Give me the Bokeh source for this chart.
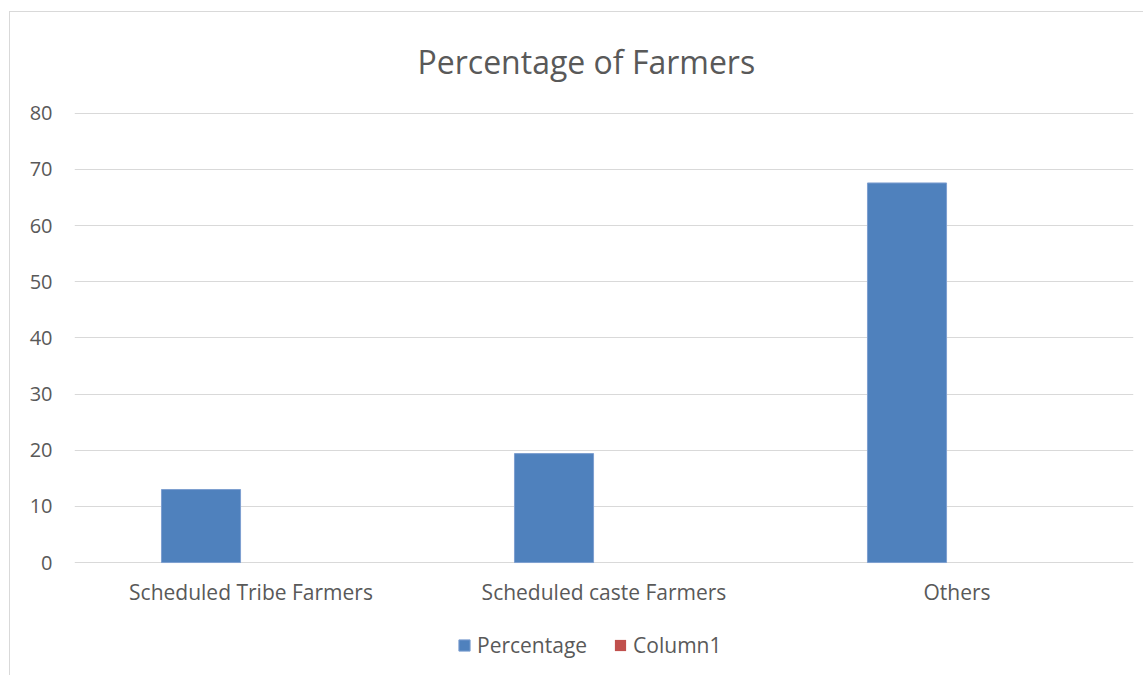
from bokeh.plotting import figure
from bokeh.models import ColumnDataSource, Legend, LegendItem
from bokeh.core.properties import value
from bokeh.transform import dodge
from bokeh.embed import file_html
from bokeh.resources import INLINE

categories = ["Scheduled Tribe Farmers", "Scheduled caste Farmers", "Others"]
percentage = [13.0, 19.4, 67.6]
column1 = [0.0, 0.0, 0.0]
y_ticks = [0, 10, 20, 30, 40, 50, 60, 70, 80]

FONT = "Open Sans"
TXT = "#595959"

# layout (pixels)
FIG_W, FIG_H = 1134, 664
B_LEFT, B_RIGHT, B_TOP, B_BOTTOM = 64, 11, 99, 10
AXIS_PX = 450.0                      # pixel span of 0..80
Y_MAX = 80
TOP_PAD = 0.15                       # keeps the 80 gridline inside the frame
frame_h = FIG_H - B_TOP - B_BOTTOM
px_per_unit = AXIS_PX / Y_MAX
y_end = Y_MAX + TOP_PAD
y_start = y_end - frame_h / px_per_unit
label_y = -30 / px_per_unit          # category labels 30px below the zero line

src = ColumnDataSource(dict(cat=categories, pct=percentage, col1=column1,
                            ly=[label_y] * len(categories)))

p = figure(
    x_range=categories, y_range=(y_start, y_end),
    width=FIG_W, height=FIG_H,
    output_backend="svg", toolbar_location=None,
    min_border_left=B_LEFT, min_border_right=B_RIGHT,
    min_border_top=B_TOP, min_border_bottom=B_BOTTOM,
    margin=(11, 0, 0, 9),
    styles={"border-top": "1px solid #d9d9d9", "border-left": "1px solid #d9d9d9"},
)
p.x_range.range_padding = 0
p.outline_line_color = None
p.xgrid.grid_line_color = None
p.ygrid.grid_line_color = "#d9d9d9"
p.ygrid.grid_line_width = 1
p.xaxis.visible = False

p.yaxis.ticker = y_ticks
ya = p.yaxis[0]
ya.axis_line_color = None
ya.major_tick_line_color = None
ya.minor_tick_line_color = None
ya.major_tick_out = 0
ya.major_tick_in = 0
ya.minor_tick_out = 0
ya.major_label_text_font = FONT
ya.major_label_text_color = TXT
ya.major_label_text_font_size = "20px"
ya.major_label_standoff = 22

r1 = p.vbar(x=dodge("cat", -0.1416, range=p.x_range), top="pct", width=0.224,
            source=src, fill_color="#4f81bd", line_color="#7d9fd0", line_width=1)
r2 = p.vbar(x=dodge("cat", 0.082, range=p.x_range), top="col1", width=0.224,
            source=src, fill_color="#c0504d", line_color=None)

# category labels under the zero line
p.text(x="cat", y="ly", text="cat", source=src, text_align="center",
       text_baseline="middle", text_font=value(FONT), text_font_size="21px",
       text_color=TXT)

p.title.text = "Percentage of Farmers"
p.title.text_font = FONT
p.title.text_font_size = "32px"
p.title.text_font_style = "normal"
p.title.text_color = TXT
p.title.align = "left"
p.title.offset = 343
p.title.standoff = 55
p.title.vertical_align = "top"

legend = Legend(items=[LegendItem(label="Percentage", renderers=[r1]),
                       LegendItem(label="Column1", renderers=[r2])],
                orientation="horizontal", location=(383, 7),
                padding=0, margin=0, spacing=26, label_standoff=6,
                glyph_width=14, glyph_height=14,
                label_text_font=FONT, label_text_font_size="21px",
                label_text_color=TXT, border_line_color=None,
                background_fill_alpha=0)
p.add_layout(legend, "center")

open("out.html", "w").write(file_html(p, INLINE))
